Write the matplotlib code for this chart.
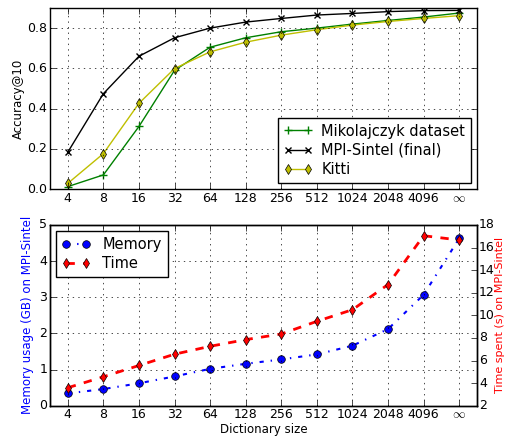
import matplotlib
matplotlib.use("Agg")
import matplotlib.pyplot as plt

plt.style.use("classic")
plt.rcParams["font.family"] = ["DejaVu Sans"]

sizes = ["4", "8", "16", "32", "64", "128", "256", "512", "1024", "2048", "4096", r"$\infty$"]

# accuracy@10 per dataset
acc_mikolajczyk = [0.012, 0.07, 0.311, 0.59, 0.705, 0.752, 0.782, 0.80, 0.82, 0.838, 0.855, 0.875]
acc_sintel = [0.183, 0.474, 0.66, 0.752, 0.80, 0.83, 0.848, 0.865, 0.873, 0.882, 0.887, 0.888]
acc_kitti = [0.028, 0.176, 0.426, 0.599, 0.682, 0.73, 0.765, 0.792, 0.815, 0.833, 0.848, 0.862]

# resources on MPI-Sintel
memory_gb = [0.34, 0.46, 0.62, 0.81, 1.02, 1.16, 1.28, 1.42, 1.66, 2.12, 3.07, 4.63]
time_s = [3.59, 4.56, 5.56, 6.56, 7.26, 7.85, 8.35, 9.47, 10.5, 12.73, 17.05, 16.67]

x = list(range(len(sizes)))

fig = plt.figure(figsize=(5.08, 4.37), dpi=100, facecolor="white")
ax1 = fig.add_axes([50/508, 1 - 189/437, 427/508, 181/437])
ax2 = fig.add_axes([50/508, 1 - 405.7/437, 427/508, 180.7/437])

ax1.plot(x, acc_mikolajczyk, "g-", marker="+", ms=6, mew=1, label="Mikolajczyk dataset")
ax1.plot(x, acc_sintel, "k-", marker="x", ms=5, mew=1, label="MPI-Sintel (final)")
ax1.plot(x, acc_kitti, "y-", marker="d", ms=5.5, mec="k", label="Kitti")
ax1.set_xlim(-0.5, 11.5)
ax1.set_ylim(0, 0.9)
ax1.set_yticks([0.0, 0.2, 0.4, 0.6, 0.8])
ax1.set_xticks(x)
ax1.set_xticklabels(sizes)
ax1.set_ylabel("Accuracy@10", fontsize=8.5, labelpad=2)
ax1.grid(True)
ax1.legend(loc="lower right", fontsize=10.5, numpoints=2, borderaxespad=0.4,
           labelspacing=0.3, handletextpad=0.6)

l1 = ax2.plot(x, memory_gb, "b-.", marker="o", ms=5.5, mec="k", lw=1.5, label="Memory")
ax2.set_xlim(-0.5, 11.5)
ax2.set_ylim(0, 5)
ax2.set_xticks(x)
ax2.set_xticklabels(sizes)
ax2.set_ylabel("Memory usage (GB) on MPI-Sintel", color="b", fontsize=8.5, labelpad=4)
ax2.set_xlabel("Dictionary size", fontsize=8.5, labelpad=1)
ax2.grid(True)

ax3 = ax2.twinx()
l2 = ax3.plot(x, time_s, "r--", marker="d", ms=5.5, mec="k", lw=2, label="Time")
ax3.set_ylim(2, 18)
ax3.set_yticks(range(2, 19, 2))
ax3.set_ylabel("Time spent (s) on MPI-Sintel", color="r", fontsize=8, labelpad=0)
ax3.set_xlim(-0.5, 11.5)

lines = l1 + l2
ax2.legend(lines, [l.get_label() for l in lines], loc="upper left", fontsize=10.5,
           numpoints=2, labelspacing=0.3, borderaxespad=0.4)

for a in (ax1, ax2, ax3):
    a.tick_params(labelsize=9, pad=2)
ax3.tick_params(pad=1.5)

fig.savefig("out.png", dpi=100, facecolor="white")
